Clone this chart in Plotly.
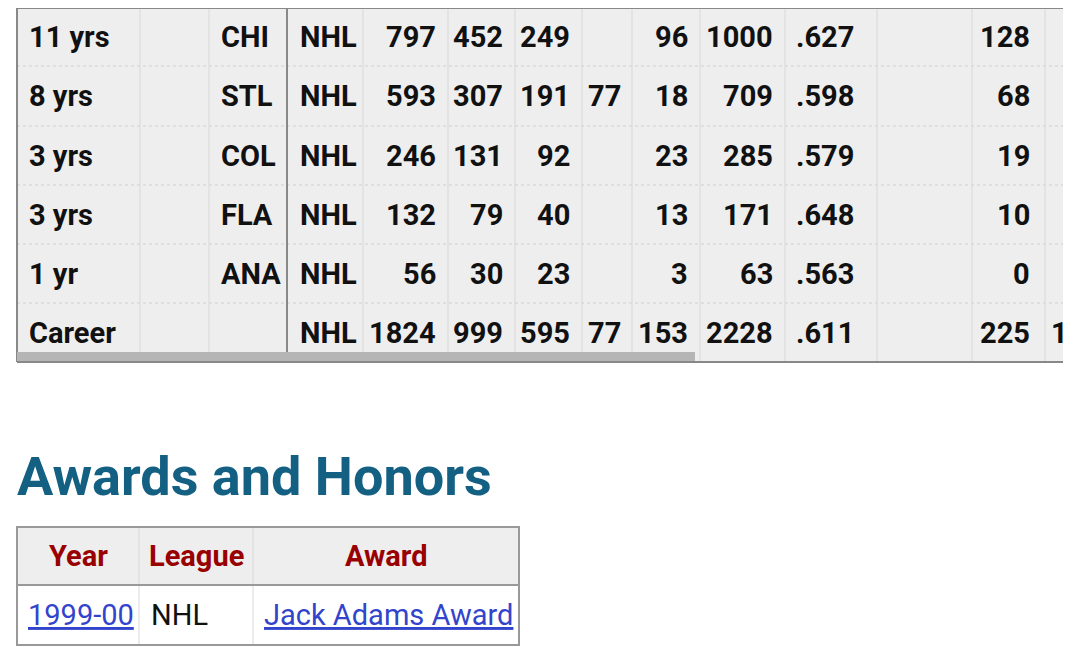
import plotly.graph_objects as go

years = ["11 yrs", "8 yrs", "3 yrs", "3 yrs", "1 yr", "Career"]
teams = ["CHI", "STL", "COL", "FLA", "ANA", ""]
league = ["NHL"] * 6
gp = ["797", "593", "246", "132", "56", "1824"]
w = ["452", "307", "131", "79", "30", "999"]
l = ["249", "191", "92", "40", "23", "595"]
t = ["", "77", "", "", "", "77"]
otl = ["96", "18", "23", "13", "3", "153"]
pts = ["1000", "709", "285", "171", "63", "2228"]
pct = [".627", ".598", ".579", ".648", ".563", ".611"]
extra = ["128", "68", "19", "10", "0", "225"]
extra2 = ["", "", "", "", "", "1"]

award_headers = ["Year", "League", "Award"]
award_row = ["1999-00", "NHL", "Jack Adams Award"]

W, H = 1080, 647
OFF = 8  # page body margin offset
fig = go.Figure()
fig.update_layout(width=W, height=H, margin=dict(l=0, r=0, t=0, b=0),
                  paper_bgcolor="white", plot_bgcolor="white", showlegend=False,
                  xaxis=dict(range=[OFF, W + OFF], visible=False, fixedrange=True),
                  yaxis=dict(range=[H + OFF, OFF], visible=False, fixedrange=True),
                  font=dict(family="Roboto", color="#111"))
shapes = []
ann = []

L, R, T0, B = 17, 1063, 8, 362
row_edges = [8, 66, 126, 185, 244, 303, 362]
col_edges = [140, 209, 287, 363, 448, 515, 582, 632, 700, 785, 877, 972, 1045]
shapes.append(dict(type="rect", x0=L, x1=R, y0=T0, y1=B, fillcolor="#eeeeee", line_width=0, layer="below"))
for y in row_edges[1:-1]:
    shapes.append(dict(type="line", x0=L, x1=R, y0=y, y1=y, line=dict(color="#cfcfcf", width=1, dash="dot")))
for x in col_edges:
    wdt = 2 if x == 287 else 1
    col = "#888888" if x == 287 else "#d8d8d8"
    shapes.append(dict(type="line", x0=x, x1=x, y0=0, y1=B, line=dict(color=col, width=wdt)))
shapes.append(dict(type="line", x0=L, x1=L, y0=0, y1=B, line=dict(color="#888888", width=2)))
shapes.append(dict(type="line", x0=L, x1=R, y0=T0, y1=T0, line=dict(color="#888888", width=2)))
shapes.append(dict(type="rect", x0=L, x1=695, y0=352, y1=361, fillcolor="#b5b5b5", line_width=0))
shapes.append(dict(type="line", x0=L, x1=R, y0=B, y1=B, line=dict(color="#888888", width=2)))

fs = 29
cols_left = [(years, 27), (teams, 219), (league, 298)]
cols_right = [(gp, 438), (w, 505), (l, 572), (t, 623), (otl, 690), (pts, 775), (pct, 856), (extra, 1032)]
for i in range(6):
    yc = (row_edges[i] + row_edges[i + 1]) / 2
    for arr, x in cols_left:
        ann.append(dict(x=x, y=yc, text="<b>%s</b>" % arr[i], xanchor="left"))
    for arr, x in cols_right:
        ann.append(dict(x=x, y=yc, text="<b>%s</b>" % arr[i], xanchor="right"))
    if extra2[i]:
        ann.append(dict(x=1049, y=yc, text="<b>%s</b>" % extra2[i], xanchor="left"))
for a in ann:
    a.update(showarrow=False, yanchor="middle", font=dict(size=fs, family="Roboto", color="#111"))

ann.append(dict(x=15, y=476, text="<b>Awards and Honors</b>", xanchor="left", yanchor="middle",
                showarrow=False, font=dict(size=54, family="Roboto", color="#136083")))

aL, aR, aT, aM, aB = 17, 519, 527, 585, 645
shapes.append(dict(type="rect", x0=aL, x1=aR, y0=aT, y1=aM, fillcolor="#eeeeee", line_width=0, layer="below"))
for x in [139, 253]:
    shapes.append(dict(type="line", x0=x, x1=x, y0=aT, y1=aB, line=dict(color="#d8d8d8", width=1)))
shapes.append(dict(type="rect", x0=aL, x1=aR, y0=aT, y1=aB, line=dict(color="#999999", width=2)))
shapes.append(dict(type="line", x0=aL, x1=aR, y0=aM, y1=aM, line=dict(color="#999999", width=2)))
hx = [78, 196, 386]
for h, x in zip(award_headers, hx):
    ann.append(dict(x=x, y=(aT + aM) / 2, text="<b>%s</b>" % h, xanchor="center", yanchor="middle",
                    showarrow=False, font=dict(size=29, family="Roboto", color="#990000")))
ry = (aM + aB) / 2
ann.append(dict(x=26, y=ry, text="<u>%s</u>" % award_row[0], xanchor="left", yanchor="middle",
                showarrow=False, font=dict(size=29, family="Roboto", color="#3344cc")))
ann.append(dict(x=149, y=ry, text=award_row[1], xanchor="left", yanchor="middle",
                showarrow=False, font=dict(size=29, family="Roboto", color="#111")))
ann.append(dict(x=262, y=ry, text="<u>%s</u>" % award_row[2], xanchor="left", yanchor="middle",
                showarrow=False, font=dict(size=29, family="Roboto", color="#3344cc")))

fig.update_layout(shapes=shapes, annotations=ann)
fig.write_html("out.html", config={"displayModeBar": False})
